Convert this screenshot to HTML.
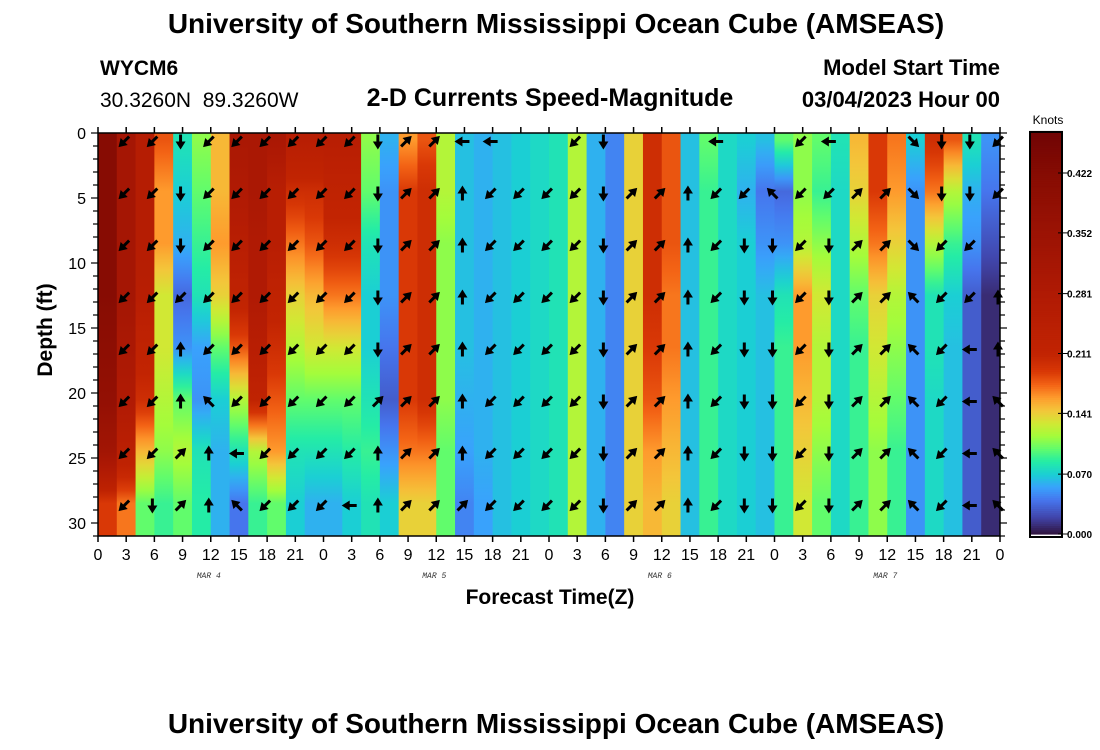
<!DOCTYPE html>
<html><head><meta charset="utf-8"><style>
html,body{margin:0;padding:0;background:#fff;}
svg{display:block;font-family:"Liberation Sans",sans-serif;}
</style></head><body>
<svg id="chart" width="1100" height="750" viewBox="0 0 1100 750" xmlns="http://www.w3.org/2000/svg">
<defs id="defs"></defs>
<text x="556" y="33" text-anchor="middle" font-size="28" font-weight="bold">University of Southern Mississippi Ocean Cube (AMSEAS)</text>
<text x="100" y="75" font-size="21" font-weight="bold">WYCM6</text>
<text x="100" y="107" font-size="21">30.3260N&#160;&#160;89.3260W</text>
<text x="550" y="106" text-anchor="middle" font-size="25" font-weight="bold">2-D Currents Speed-Magnitude</text>
<text x="1000" y="75" text-anchor="end" font-size="22" font-weight="bold">Model Start Time</text>
<text x="1000" y="107" text-anchor="end" font-size="22" font-weight="bold">03/04/2023 Hour 00</text>
<g id="heat"></g>
<g id="arrows"></g>
<g id="axes"></g>
<text transform="translate(52,330) rotate(-90)" text-anchor="middle" font-size="21" font-weight="bold">Depth (ft)</text>
<text x="550" y="604" text-anchor="middle" font-size="21" font-weight="bold">Forecast Time(Z)</text>
<g id="cbar"></g>
<text x="1048" y="124" text-anchor="middle" font-size="12">Knots</text>
<text x="556" y="733" text-anchor="middle" font-size="28" font-weight="bold">University of Southern Mississippi Ocean Cube (AMSEAS)</text>
</svg>
<script>
// ---- data ----
const timeTickLabels = ["0","3","6","9","12","15","18","21","0","3","6","9","12","15","18","21","0","3","6","9","12","15","18","21","0","3","6","9","12","15","18","21","0"];
const dayLabels = ["MAR 4","MAR 5","MAR 6","MAR 7"];
const depthTicks = [0,5,10,15,20,25,30];
const colorbarTicks = [0.000,0.070,0.141,0.211,0.281,0.352,0.422];
const rowDepths = [0.5,4.5,8.5,12.5,16.5,20.5,24.5,28.5];
const arrowDepths = [0.5,4.5,8.5,12.5,16.5,20.5,24.5,28.5];
const speedCols = [
[0.42,0.42,0.42,0.42,0.40,0.38,0.33,0.19],
[0.32,0.32,0.32,0.32,0.30,0.28,0.24,0.17],
[0.26,0.26,0.26,0.25,0.22,0.20,0.15,0.10],
[0.18,0.16,0.16,0.13,0.13,0.12,0.11,0.09],
[0.08,0.07,0.06,0.035,0.05,0.10,0.12,0.10],
[0.11,0.10,0.09,0.08,0.055,0.05,0.08,0.085],
[0.15,0.15,0.16,0.14,0.10,0.07,0.06,0.06],
[0.30,0.28,0.25,0.22,0.18,0.12,0.08,0.04],
[0.30,0.30,0.28,0.28,0.25,0.22,0.12,0.09],
[0.30,0.25,0.25,0.22,0.20,0.18,0.16,0.10],
[0.25,0.20,0.17,0.14,0.12,0.10,0.08,0.07],
[0.25,0.20,0.18,0.15,0.13,0.10,0.08,0.06],
[0.25,0.22,0.20,0.17,0.13,0.10,0.08,0.06],
[0.25,0.22,0.20,0.17,0.13,0.10,0.085,0.07],
[0.11,0.10,0.08,0.07,0.07,0.08,0.09,0.08],
[0.06,0.05,0.05,0.05,0.04,0.03,0.05,0.07],
[0.16,0.19,0.19,0.19,0.19,0.19,0.17,0.14],
[0.18,0.20,0.20,0.20,0.20,0.20,0.17,0.14],
[0.12,0.12,0.11,0.11,0.11,0.11,0.10,0.10],
[0.065,0.065,0.065,0.065,0.065,0.06,0.055,0.045],
[0.06,0.06,0.06,0.06,0.06,0.06,0.06,0.055],
[0.065,0.065,0.065,0.065,0.065,0.065,0.065,0.065],
[0.07,0.07,0.07,0.07,0.07,0.07,0.07,0.07],
[0.075,0.075,0.075,0.075,0.075,0.075,0.075,0.075],
[0.08,0.08,0.08,0.08,0.08,0.08,0.08,0.08],
[0.12,0.12,0.12,0.12,0.12,0.12,0.12,0.12],
[0.06,0.06,0.06,0.06,0.06,0.06,0.06,0.06],
[0.045,0.045,0.045,0.045,0.045,0.045,0.045,0.045],
[0.14,0.14,0.14,0.14,0.14,0.14,0.14,0.14],
[0.20,0.20,0.20,0.20,0.19,0.18,0.16,0.15],
[0.18,0.18,0.18,0.17,0.17,0.16,0.15,0.14],
[0.065,0.065,0.065,0.065,0.065,0.065,0.065,0.065],
[0.10,0.09,0.09,0.09,0.09,0.09,0.09,0.09],
[0.075,0.075,0.075,0.075,0.075,0.075,0.075,0.075],
[0.07,0.06,0.07,0.07,0.07,0.07,0.07,0.07],
[0.065,0.04,0.05,0.065,0.065,0.065,0.065,0.065],
[0.10,0.035,0.05,0.08,0.09,0.09,0.09,0.09],
[0.11,0.11,0.12,0.16,0.16,0.15,0.14,0.13],
[0.10,0.09,0.11,0.13,0.12,0.12,0.11,0.10],
[0.08,0.075,0.075,0.075,0.075,0.075,0.075,0.075],
[0.15,0.14,0.12,0.10,0.09,0.09,0.09,0.09],
[0.19,0.19,0.17,0.14,0.13,0.12,0.11,0.11],
[0.17,0.16,0.14,0.12,0.11,0.10,0.09,0.09],
[0.07,0.05,0.05,0.05,0.05,0.05,0.05,0.05],
[0.20,0.17,0.12,0.08,0.08,0.075,0.075,0.075],
[0.18,0.12,0.09,0.07,0.065,0.065,0.065,0.065],
[0.08,0.06,0.05,0.03,0.03,0.03,0.03,0.03],
[0.05,0.04,0.025,0.01,0.01,0.01,0.01,0.01]
];
const arrowHours = [3,6,9,12,15,18,21,24,27,30,33,36,39,42,45,48,51,54,57,60,63,66,69,72,75,78,81,84,87,90,93,96];
const arrowDirs = [
"SW SW SW SW SW SW SW SW","SW SW SW SW SW SW SW S","S S S SW N N NE NE","SW SW SW SW SW NW N N",
"SW SW SW SW SW SW W NW","SW SW SW SW SW SW SW SW","SW SW SW SW SW SW SW SW","SW SW SW SW SW SW SW SW",
"SW SW SW SW SW SW SW W","S S S S S NE N N","NE NE NE NE NE NE NE NE","NE NE NE NE NE NE NE NE",
"W N N N N N N NE","W SW SW SW SW SW SW SW","- SW SW SW SW SW SW SW","- SW SW SW SW SW SW SW",
"SW SW SW SW SW SW SW SW","S S S S S S S S","- NE NE NE NE NE NE NE","- NE NE NE NE NE NE NE",
"- N N N N N N N","W SW SW SW SW SW SW SW","- SW S S S S S S","- NW S S S S S S",
"SW SW SW SW SW SW SW SW","W SW S S S S S S","- NE NE NE NE NE NE NE","- NE NE NE NE NE NE NE",
"SE SE SE NW NW NW NW NW","S S SW SW SW SW SW SW","S S SW SW W W W W","SW SW - N N NW NW NW"
];
// ---- scales ----
const X0=98,X1=1000,Y0=133,PXFT=13;
const X=h=>X0+h*(X1-X0)/96;
const Y=d=>Y0+d*PXFT;
const stops=[[0,"#30123b"],[0.02,"#4145ab"],[0.04,"#4675ed"],[0.055,"#39a2fc"],[0.07,"#1bcfd4"],[0.085,"#24eca6"],[0.10,"#61fc6c"],[0.115,"#a4fc3b"],[0.13,"#d1e834"],[0.145,"#f3c63a"],[0.16,"#fe9b2d"],[0.175,"#f36315"],[0.19,"#d93806"],[0.21,"#c22402"],[0.28,"#b01a04"],[0.35,"#9c1304"],[0.42,"#870c03"],[0.47,"#700404"]];
function hex(c){return [1,3,5].map(i=>parseInt(c.substr(i,2),16));}
function color(v){
  if(v<=stops[0][0])return stops[0][1];
  for(let i=1;i<stops.length;i++){if(v<=stops[i][0]){const a=stops[i-1],b=stops[i],t=(v-a[0])/(b[0]-a[0]);const ca=hex(a[1]),cb=hex(b[1]);return "rgb("+ca.map((x,k)=>Math.round(x+(cb[k]-x)*t)).join(",")+")";}}
  return stops[stops.length-1][1];
}
const NS="http://www.w3.org/2000/svg";
function mk(tag,attrs,parent){const e=document.createElementNS(NS,tag);for(const k in attrs)e.setAttribute(k,attrs[k]);parent.appendChild(e);return e;}
// ---- heatmap (vertical shading between row centres) ----
const heat=document.getElementById('heat');
const defs=document.getElementById('defs');
const colHours=96/speedCols.length;
speedCols.forEach((col,i)=>{
  const gid='g'+i;
  const lg=mk('linearGradient',{id:gid,gradientUnits:'userSpaceOnUse',x1:0,y1:Y(0),x2:0,y2:Y(31)},defs);
  col.forEach((v,j)=>{
    // several stops per row for smooth colour-mapped interpolation
    mk('stop',{offset:rowDepths[j]/31,'stop-color':color(v)},lg);
    if(j<col.length-1){
      for(let k=1;k<4;k++){const f=k/4;mk('stop',{offset:(rowDepths[j]+(rowDepths[j+1]-rowDepths[j])*f)/31,'stop-color':color(v+(col[j+1]-v)*f)},lg);}
    }
  });
  const r=mk('rect',{x:X(i*colHours),y:Y(0),width:X((i+1)*colHours)-X(i*colHours)+0.5,height:Y(31)-Y(0),fill:`url(#${gid})`},heat);
  
  
});
// ---- arrows ----
const ang={N:-90,NE:-45,E:0,SE:45,S:90,SW:135,W:180,NW:-135};
const arr=document.getElementById('arrows');
arrowHours.forEach((h,i)=>{arrowDirs[i].split(' ').forEach((d,j)=>{
  if(d==='-')return;
  const g=mk('g',{transform:`translate(${X(h)-2},${Y(arrowDepths[j])+2}) rotate(${ang[d]})`},arr);
  
  
  mk('line',{x1:-7,y1:0,x2:2,y2:0,stroke:'#000','stroke-width':3},g);
  mk('polygon',{points:'8,0 0,-5 0,5',fill:'#000'},g);
});});
// ---- axes ----
const ax=document.getElementById('axes');
const frame=mk('rect',{x:X0,y:Y0,width:X1-X0,height:Y(31)-Y0,fill:'none',stroke:'#000','stroke-width':1.5},ax);


timeTickLabels.forEach((lab,i)=>{
  const x=X(i*3);
  mk('line',{x1:x,y1:Y(31),x2:x,y2:Y(31)+6,stroke:'#000','stroke-width':1.5},ax);
  mk('line',{x1:x,y1:Y0,x2:x,y2:Y0-6,stroke:'#000','stroke-width':1.5},ax);
  const t=mk('text',{x:x,y:560,'text-anchor':'middle','font-size':16},ax);
  t.textContent=lab;
  
  
});
dayLabels.forEach((lab,i)=>{
  const t=mk('text',{x:X(i*24+12)-2,y:578,'text-anchor':'middle','font-size':8,'font-style':'italic','font-family':'Liberation Mono, monospace',fill:'#333'},ax);
  t.textContent=lab;
  
  
});
for(let d=0;d<=31;d++){
  const y=Y(d),len=d%5===0?7:5;
  mk('line',{x1:X0-len,y1:y,x2:X0,y2:y,stroke:'#000','stroke-width':1.2},ax);
  mk('line',{x1:X1,y1:y,x2:X1+len,y2:y,stroke:'#000','stroke-width':1.2},ax);
}
depthTicks.forEach(d=>{
  const t=mk('text',{x:86,y:Y(d)+6,'text-anchor':'end','font-size':16},ax);
  t.textContent=d;
  
  
});
// ---- colorbar ----
const cb=document.getElementById('cbar');
const CB0=534,CBPX=(534-173)/0.422,CBX=1030,CBW=32;
for(let v=0;v<0.47;v+=0.0025){
  mk('rect',{x:CBX,y:CB0-(v+0.0025)*CBPX,width:CBW,height:0.0025*CBPX+0.6,fill:color(v+0.00125)},cb);
}
const cbf=mk('rect',{x:CBX,y:CB0-0.47*CBPX,width:CBW,height:0.47*CBPX+3,fill:'none',stroke:'#000','stroke-width':2},cb);


colorbarTicks.forEach(v=>{
  const y=CB0-v*CBPX;
  mk('line',{x1:CBX+CBW-4,y1:y,x2:CBX+CBW+6,y2:y,stroke:'#000','stroke-width':1},cb);
  const t=mk('text',{x:1067,y:y+4,'font-size':10,'font-weight':'bold'},cb);
  t.textContent=v.toFixed(3);
  
  
});
</script>
</body></html>
